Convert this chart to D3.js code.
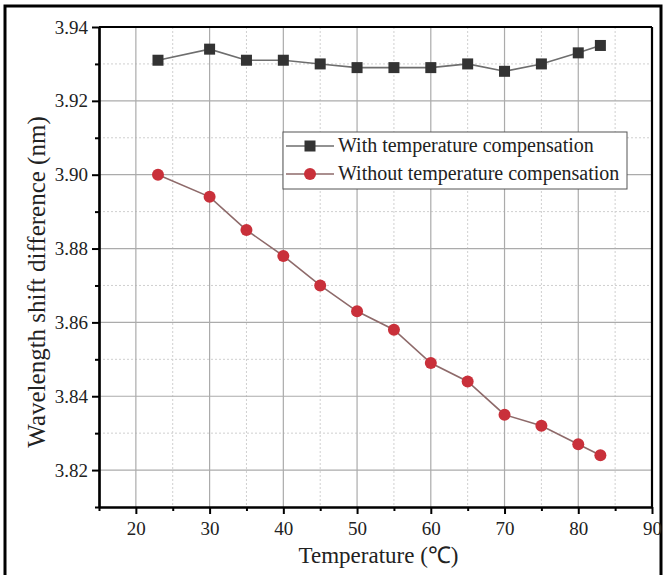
<!DOCTYPE html>
<html><head><meta charset="utf-8">
<script src="https://cdn.jsdelivr.net/npm/d3@7"></script>
<style>body{margin:0;background:#fff}svg{display:block}svg text{font-family:"Liberation Serif","Times New Roman",Times,serif}</style>
</head><body><svg id="c" width="666" height="575"></svg>
<script>
const temps = [23, 30, 35, 40, 45, 50, 55, 60, 65, 70, 75, 80, 83];
const withComp = [3.931, 3.934, 3.931, 3.931, 3.930, 3.929, 3.929, 3.929, 3.930, 3.928, 3.930, 3.933, 3.935];
const withoutComp = [3.900, 3.894, 3.885, 3.878, 3.870, 3.863, 3.858, 3.849, 3.844, 3.835, 3.832, 3.827, 3.824];
const xTicks = [20, 30, 40, 50, 60, 70, 80, 90];
const xMinor = [15, 25, 35, 45, 55, 65, 75, 85];
const yTicks = [3.82, 3.84, 3.86, 3.88, 3.90, 3.92, 3.94];
const yMinor = [3.81, 3.83, 3.85, 3.87, 3.89, 3.91, 3.93];
const seriesNames = ["With temperature compensation", "Without temperature compensation"];

const svg = d3.select("#c");
const L = 99, R = 652, T = 27, B = 507;
const x = d3.scaleLinear().domain([15, 90]).range([L, R]);
const y = d3.scaleLinear().domain([3.81, 3.94]).range([B, T]);

// outer frame
svg.append("rect").attr("x", 5).attr("y", 6).attr("width", 656).attr("height", 620)
  .attr("fill", "none").attr("stroke", "#000").attr("stroke-width", 3);

// grid
const g = svg.append("g");
g.selectAll(".xmin").data(xMinor.filter(d => d > 15)).join("line")
  .attr("x1", d => x(d)).attr("x2", d => x(d)).attr("y1", T).attr("y2", B)
  .attr("stroke", "#cfcfcf").attr("stroke-dasharray", "2,2");
g.selectAll(".ymin").data(yMinor.filter(d => d > 3.81)).join("line")
  .attr("y1", d => y(d)).attr("y2", d => y(d)).attr("x1", L).attr("x2", R)
  .attr("stroke", "#cfcfcf").attr("stroke-dasharray", "2,2");
g.selectAll(".xmaj").data(xTicks.filter(d => d < 90)).join("line")
  .attr("x1", d => x(d)).attr("x2", d => x(d)).attr("y1", T).attr("y2", B)
  .attr("stroke", "#ababab").attr("stroke-width", 1.2);
g.selectAll(".ymaj").data(yTicks.filter(d => d < 3.94)).join("line")
  .attr("y1", d => y(d)).attr("y2", d => y(d)).attr("x1", L).attr("x2", R)
  .attr("stroke", "#ababab").attr("stroke-width", 1.2);

// axes
const xAxis = d3.axisBottom(x).tickValues(xTicks).tickSize(7).tickSizeOuter(0).tickPadding(8).tickFormat(d3.format("d"));
const xAxisMinor = d3.axisBottom(x).tickValues(xMinor).tickSize(4).tickSizeOuter(0).tickFormat("");
const yAxis = d3.axisLeft(y).tickValues(yTicks).tickSize(7).tickSizeOuter(0).tickPadding(4).tickFormat(d3.format(".2f"));
const yAxisMinor = d3.axisLeft(y).tickValues(yMinor).tickSize(4).tickSizeOuter(0).tickFormat("");

function styleAxis(sel) {
  sel.attr("font-family", null);
  sel.select(".domain").attr("stroke", "#000").attr("stroke-width", 2.2);
  sel.selectAll(".tick line").attr("stroke", "#000").attr("stroke-width", 2);
  sel.selectAll("text").attr("font-size", 19).attr("fill", "#222");
}
svg.append("g").attr("transform", `translate(0,${B})`).call(xAxisMinor).call(styleAxis);
svg.append("g").attr("transform", `translate(0,${B})`).call(xAxis).call(styleAxis);
svg.append("g").attr("transform", `translate(${L},0)`).call(yAxisMinor).call(styleAxis);
svg.append("g").attr("transform", `translate(${L},0)`).call(yAxis).call(styleAxis);
// top & right box lines
svg.append("line").attr("x1", L).attr("x2", R).attr("y1", T).attr("y2", T).attr("stroke", "#000").attr("stroke-width", 2.2);
svg.append("line").attr("x1", R).attr("x2", R).attr("y1", T).attr("y2", B).attr("stroke", "#000").attr("stroke-width", 2.2);

// titles
svg.append("text").attr("x", (L + R) / 2 + 3).attr("y", 563).attr("text-anchor", "middle")
  .attr("font-size", 23).attr("fill", "#222").text("Temperature (℃)");
svg.append("text").attr("transform", `translate(45,${(T + B) / 2 + 15}) rotate(-90)`).attr("text-anchor", "middle")
  .attr("font-size", 25).attr("fill", "#222").text("Wavelength shift difference (nm)");

// series
const line = d3.line().x(d => x(d[0])).y(d => y(d[1]));
const s1 = temps.map((t, i) => [t, withComp[i]]);
const s2 = temps.map((t, i) => [t, withoutComp[i]]);
svg.append("path").datum(s1).attr("d", line).attr("fill", "none").attr("stroke", "#6e6e6e").attr("stroke-width", 1.6);
svg.append("path").datum(s2).attr("d", line).attr("fill", "none").attr("stroke", "#8e6a6a").attr("stroke-width", 1.6);
svg.selectAll(".sq").data(s1).join("rect")
  .attr("x", d => x(d[0]) - 5.5).attr("y", d => y(d[1]) - 5.5).attr("width", 11).attr("height", 11)
  .attr("fill", "#333");
svg.selectAll(".ci").data(s2).join("circle")
  .attr("cx", d => x(d[0])).attr("cy", d => y(d[1])).attr("r", 6)
  .attr("fill", "#c9303a");

// legend
const lg = svg.append("g");
lg.append("rect").attr("x", 283).attr("y", 132).attr("width", 344).attr("height", 57)
  .attr("fill", "#fff").attr("stroke", "#555").attr("stroke-width", 1);
const rows = [146, 174];
lg.append("line").attr("x1", 286).attr("x2", 334).attr("y1", rows[0]).attr("y2", rows[0]).attr("stroke", "#6e6e6e").attr("stroke-width", 1.6);
lg.append("rect").attr("x", 310 - 5.5).attr("y", rows[0] - 5.5).attr("width", 11).attr("height", 11).attr("fill", "#333");
lg.append("line").attr("x1", 286).attr("x2", 334).attr("y1", rows[1]).attr("y2", rows[1]).attr("stroke", "#8e6a6a").attr("stroke-width", 1.6);
lg.append("circle").attr("cx", 310).attr("cy", rows[1]).attr("r", 6).attr("fill", "#c9303a");
lg.selectAll(".lt").data(seriesNames).join("text")
  .attr("x", 338).attr("y", (d, i) => rows[i] + 6)
  .attr("font-size", 20).attr("fill", "#222").text(d => d);
</script></body></html>
